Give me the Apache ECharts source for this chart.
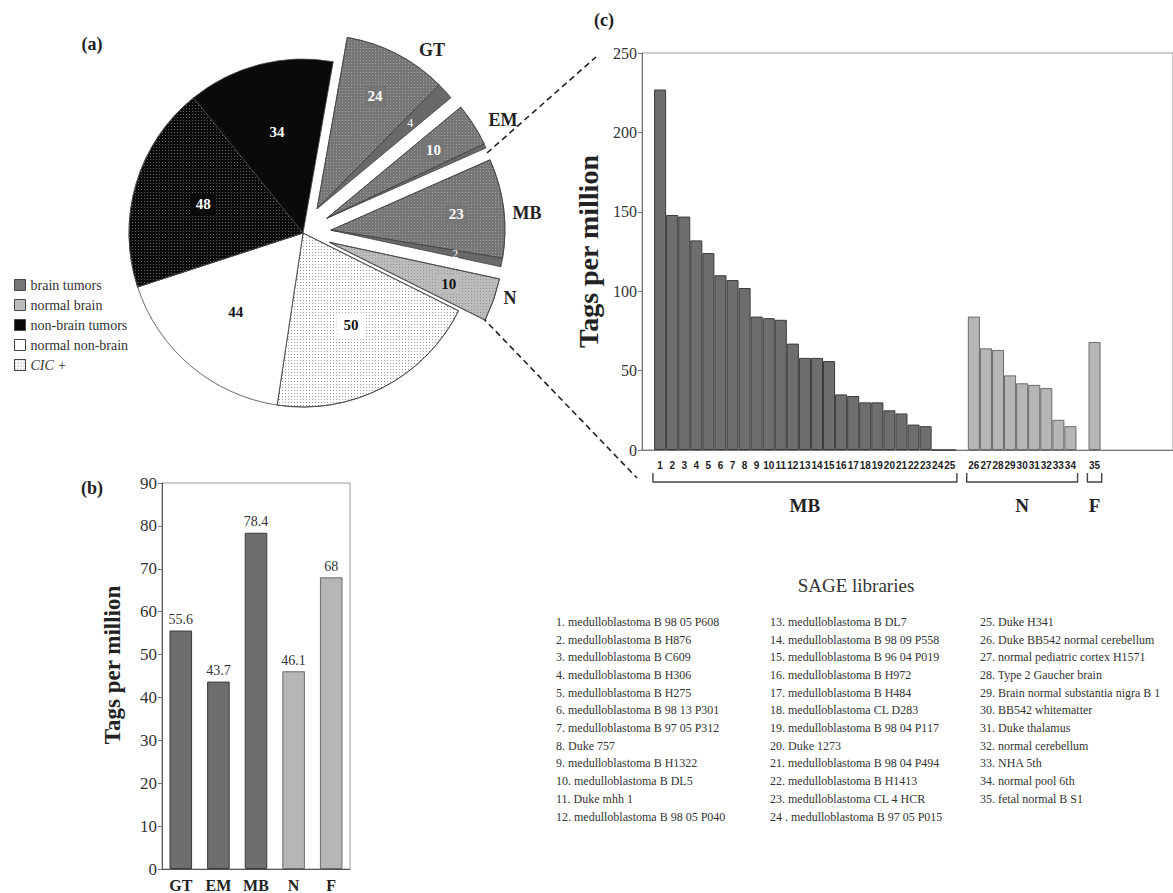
<!DOCTYPE html>
<html><head><meta charset="utf-8">
<script src="https://cdn.jsdelivr.net/npm/echarts@6/dist/echarts.min.js"></script>
<style>html,body{margin:0;padding:0;background:#fff}#c{width:1173px;height:893px}</style>
</head><body><div id="c"></div>
<script>
// ---------------- data ----------------
// (a) pie: slices clockwise starting with GT
const pieValues = [24, 4, 10, 1, 23, 2, 10, 50, 44, 48, 34];
const pieGroups = ['GT','GT','EM','EM','MB','MB','N','rest','rest','rest','rest'];
const pieKinds  = ['tumorCIC','tumor','tumorCIC','tumor','tumorCIC','tumor','normalBrainCIC','normalNonBrainCIC','normalNonBrain','nonBrainTumorCIC','nonBrainTumor'];
const pieGroupLabels = ['GT','EM','MB','N'];
const legendNames = ['brain tumors','normal brain','non-brain tumors','normal non-brain','CIC +'];

// (b) mean tags per million
const bCategories = ['GT','EM','MB','N','F'];
const bValues = [55.6, 43.7, 78.4, 46.1, 68];
const bTypes = ['tumor','tumor','tumor','normal','normal'];

// (c) SAGE libraries
const mbLibs = ['1','2','3','4','5','6','7','8','9','10','11','12','13','14','15','16','17','18','19','20','21','22','23','24','25'];
const mbValues = [227,148,147,132,124,110,107,102,84,83,82,67,58,58,56,35,34,30,30,25,23,16,15,0,0];
const nLibs = ['26','27','28','29','30','31','32','33','34'];
const nValues = [84,64,63,47,42,41,39,19,15];
const fLibs = ['35'];
const fValues = [68];

const sageLibraries = [
'1. medulloblastoma B 98 05 P608','2. medulloblastoma B H876','3. medulloblastoma B C609','4. medulloblastoma B H306',
'5. medulloblastoma B H275','6. medulloblastoma B 98 13 P301','7. medulloblastoma B 97 05 P312','8. Duke 757',
'9. medulloblastoma B H1322','10. medulloblastoma B DL5','11. Duke mhh 1','12. medulloblastoma B 98 05 P040',
'13. medulloblastoma B DL7','14. medulloblastoma B 98 09 P558','15. medulloblastoma B 96 04 P019','16. medulloblastoma B H972',
'17. medulloblastoma B H484','18. medulloblastoma CL D283','19. medulloblastoma B 98 04 P117','20. Duke 1273',
'21. medulloblastoma B 98 04 P494','22. medulloblastoma B H1413','23. medulloblastoma CL 4 HCR','24 . medulloblastoma B 97 05 P015',
'25. Duke H341','26. Duke BB542 normal cerebellum','27. normal pediatric cortex H1571','28. Type 2 Gaucher brain',
'29. Brain normal substantia nigra B 1','30. BB542 whitematter','31. Duke thalamus','32. normal cerebellum',
'33. NHA 5th','34. normal pool 6th','35. fetal normal B S1'];

// ---------------- styles ----------------
const FONT = "'Liberation Serif','Times New Roman',serif";
const DARK = '#767676', DARK2 = '#696969', LIGHT = '#bcbcbc', BLACK = '#0a0a0a';
function dots(color){ return {symbol:'rect', symbolSize:1, dashArrayX:[1,2], dashArrayY:[1,2], color:color}; }
const kindStyle = {
  tumorCIC:          {color:DARK,  decal:dots('rgba(255,255,255,0.3)'), label:{color:'#fff', backgroundColor:DARK, padding:[2,3], fontSize:15}},
  tumor:             {color:DARK2, label:{color:'#fff', fontSize:12, fontWeight:'normal'}},
  normalBrainCIC:    {color:LIGHT, decal:dots('rgba(0,0,0,0.2)'), label:{color:'#111', backgroundColor:LIGHT, padding:[2,3], fontSize:15}},
  normalNonBrainCIC: {color:'#fff', decal:dots('rgba(0,0,0,0.4)'), label:{color:'#111', backgroundColor:'#fff', padding:[5,7], fontSize:15}},
  normalNonBrain:    {color:'#fff', label:{color:'#111', fontSize:15}},
  nonBrainTumorCIC:  {color:BLACK, decal:dots('rgba(255,255,255,0.35)'), label:{color:'#fff', backgroundColor:BLACK, padding:[3,4], fontSize:15}},
  nonBrainTumor:     {color:BLACK, label:{color:'#fff', fontSize:15}}
};
const legendStyles = [
  {color:DARK}, {color:LIGHT}, {color:BLACK}, {color:'#fff'}, {color:'#fff', decal:dots('rgba(0,0,0,0.55)')}
];

// ---------------- pie geometry ----------------
const R = 174, C = [303, 233], EXPLODE = 28, START_DEG = 10;
const total = pieValues.reduce((a,b)=>a+b,0);
function groupCenter(g){
  if (g === 'rest') return C.slice();
  const first = pieGroups.indexOf(g);
  let before = 0, span = 0;
  pieValues.forEach((v,i)=>{ if(i<first) before+=v; if(pieGroups[i]===g) span+=v; });
  const mid = (START_DEG + (before + span/2)/total*360) * Math.PI/180;
  return [C[0] + EXPLODE*Math.sin(mid), C[1] - EXPLODE*Math.cos(mid)];
}
function pieSeries(group, labelsOnly){
  const ctr = groupCenter(group);
  const rIn = labelsOnly ? (group==='rest' ? 0.16*R : 0.42*R) : 0;
  return {
    type:'pie', center:ctr, radius:[rIn, R], startAngle:90-START_DEG, clockwise:true,
    silent:true, avoidLabelOverlap:false, minShowLabelAngle:0, labelLine:{show:false}, emphasis:{disabled:true},
    z: labelsOnly ? 5 : 2,
    data: pieValues.map((v,i)=>{
      const mine = pieGroups[i] === group;
      const k = kindStyle[pieKinds[i]];
      let itemStyle;
      if (mine && !labelsOnly) {
        itemStyle = {color:k.color, borderColor:'#444', borderWidth:0.8};
        if (k.decal) itemStyle.decal = k.decal;
      } else {
        itemStyle = {color:'rgba(0,0,0,0)', borderWidth:0};
      }
      return {
        value:v, name:group+'-'+i, itemStyle:itemStyle,
        label: (mine && labelsOnly) ? Object.assign({show:true, position:'inside', formatter:'{c}', fontFamily:FONT, fontWeight:'bold'}, k.label) : {show:false}
      };
    })
  };
}
const groups = ['rest','GT','EM','MB','N'];
const pieAll = [];
groups.forEach(g=>pieAll.push(pieSeries(g,false)));
groups.forEach(g=>pieAll.push(pieSeries(g,true)));

// ---------------- (c) categories ----------------
const cCats = [], cData = [];
let padN = 0;
function pad(){ cCats.push('pad'+(padN++)); cData.push(null); }
pad();
mbLibs.forEach((l,i)=>{ cCats.push(l); cData.push({value:mbValues[i], itemStyle:{color:'#6e6e6e', borderColor:'#3a3a3a'}}); });
pad();
nLibs.forEach((l,i)=>{ cCats.push(l); cData.push({value:nValues[i], itemStyle:{color:'#b6b6b6', borderColor:'#6a6a6a'}}); });
pad();
fLibs.forEach((l,i)=>{ cCats.push(l); cData.push({value:fValues[i], itemStyle:{color:'#b6b6b6', borderColor:'#6a6a6a'}}); });
for (let i=0;i<6;i++) pad();
const SLOT = 12.3;

// ---------------- option ----------------
const axisLabelFont = {fontFamily:FONT, color:'#333'};
const option = {
  animation:false,
  backgroundColor:'#fff',
  legend:{
    data:legendNames, orient:'vertical', left:14, top:278, padding:0,
    itemWidth:11, itemHeight:11, itemGap:6, itemTextGap:8, icon:'rect', selectedMode:false,
    itemStyle:{borderColor:'#444', borderWidth:1},
    textStyle:{fontFamily:FONT, fontSize:14, color:'#333', rich:{it:{fontFamily:FONT, fontSize:14, fontStyle:'italic', color:'#333'}}},
    formatter: n => n==='CIC +' ? '{it|CIC +}' : n
  },
  grid:[
    {left:162, top:483, width:188, height:387, show:true, borderColor:'#999', borderWidth:1, backgroundColor:'transparent'},
    {left:642, top:53, width:SLOT*cCats.length, height:397, show:true, borderColor:'#999', borderWidth:1, backgroundColor:'transparent'}
  ],
  xAxis:[
    {type:'category', gridIndex:0, data:bCategories,
     axisLine:{lineStyle:{color:'#555'}}, axisTick:{inside:true, length:4, lineStyle:{color:'#777'}},
     axisLabel:{fontFamily:FONT, fontWeight:'bold', fontSize:16, color:'#222', margin:8}},
    {type:'category', gridIndex:1, data:cCats,
     axisLine:{lineStyle:{color:'#777'}}, axisTick:{show:false},
     axisLabel:{interval:0, margin:10, fontFamily:"'Liberation Sans Narrow','Liberation Sans',sans-serif", fontWeight:'bold', fontSize:10, color:'#222',
       formatter: v => v.indexOf('pad')===0 ? '' : v}}
  ],
  yAxis:[
    {type:'value', gridIndex:0, min:0, max:90, interval:10,
     name:'Tags per million', nameLocation:'middle', nameGap:38,
     nameTextStyle:{fontFamily:FONT, fontWeight:'bold', fontSize:23, color:'#222', padding:[0,0,0,22]},
     axisLine:{show:true, lineStyle:{color:'#555'}}, axisTick:{show:true, length:4, lineStyle:{color:'#777'}},
     splitLine:{show:false}, axisLabel:Object.assign({fontSize:17, margin:5}, axisLabelFont)},
    {type:'value', gridIndex:1, min:0, max:250, interval:50,
     name:'Tags per million', nameLocation:'middle', nameGap:40,
     nameTextStyle:{fontFamily:FONT, fontWeight:'bold', fontSize:28, color:'#222'},
     axisLine:{show:true, lineStyle:{color:'#777'}}, axisTick:{show:true, length:4, lineStyle:{color:'#777'}},
     splitLine:{show:false}, axisLabel:Object.assign({fontSize:16, margin:5}, axisLabelFont)}
  ],
  series:[
    {type:'bar', xAxisIndex:0, yAxisIndex:0, barWidth:'60%', silent:true,
     data:bValues.map((v,i)=>({value:v, itemStyle: bTypes[i]==='tumor' ? {color:'#6e6e6e', borderColor:'#3a3a3a', borderWidth:1} : {color:'#b6b6b6', borderColor:'#6a6a6a', borderWidth:1}})),
     label:{show:true, position:'top', distance:4, fontFamily:FONT, fontSize:14, color:'#333'}},
    {type:'bar', xAxisIndex:1, yAxisIndex:1, barWidth:'100%', silent:true,
     itemStyle:{borderWidth:1}, data:cData},
    {type:'pie', name:'legendDummy', center:[-100,-100], radius:[0,1], silent:true, label:{show:false}, labelLine:{show:false},
     data:legendNames.map((n,i)=>({name:n, value:1, itemStyle:Object.assign({borderColor:'#444', borderWidth:1}, legendStyles[i])}))}
  ].concat(pieAll)
};

const chart = echarts.init(document.getElementById('c'), null, {renderer:'svg', width:1173, height:893});
chart.setOption(option);

// ---------------- annotations ----------------
const g = [];
function txt(x,y,text,font,extra){ g.push({type:'text', x:x, y:y, silent:true, style:Object.assign({text:text, font:font, fill:'#222', align:'center', verticalAlign:'middle'}, extra||{})}); }
const BOLD18 = "bold 18px 'Liberation Serif'";
txt(92, 44, '(a)', BOLD18);
txt(92, 488, '(b)', BOLD18);
txt(604, 20, '(c)', BOLD18);
const grpPos = {GT:[432,50], EM:[503,120], MB:[527,213], N:[510,298]};
pieGroupLabels.forEach(n=>txt(grpPos[n][0], grpPos[n][1], n, "bold 18px 'Liberation Serif'"));
g.push({type:'line', silent:true, shape:{x1:487,y1:153,x2:596,y2:57}, style:{stroke:'#222', lineWidth:1.6, lineDash:[6,4]}});
g.push({type:'line', silent:true, shape:{x1:482,y1:317,x2:637,y2:478}, style:{stroke:'#222', lineWidth:1.6, lineDash:[6,4]}});
const px = i => chart.convertToPixel({xAxisIndex:1}, i);
const y0 = chart.convertToPixel({yAxisIndex:1}, 0);
[[mbLibs,'MB'],[nLibs,'N'],[fLibs,'F']].forEach(([libs,name])=>{
  const a = cCats.indexOf(libs[0]), b = cCats.indexOf(libs[libs.length-1]);
  const l = px(a) - SLOT/2 - 1, r = px(b) + SLOT/2 + 1;
  g.push({type:'polyline', silent:true, shape:{points:[[l,y0+23],[l,y0+32],[r,y0+32],[r,y0+23]]}, style:{stroke:'#444', lineWidth:1.4, fill:null}});
  txt((l+r)/2, y0+55, name, "bold 19px 'Liberation Serif'");
});
txt(856, 585, 'SAGE libraries', "19px 'Liberation Serif'", {fill:'#333'});
const cols = [[0,12,556],[12,24,770],[24,35,980]];
cols.forEach(([s,e,x])=>{
  g.push({type:'text', x:x, y:613, silent:true, style:{text:sageLibraries.slice(s,e).join('\n'), font:"12px 'Liberation Serif'", fill:'#333', lineHeight:17.7, verticalAlign:'top', align:'left'}});
});
chart.setOption({graphic:{elements:g}});
</script>
</body></html>
